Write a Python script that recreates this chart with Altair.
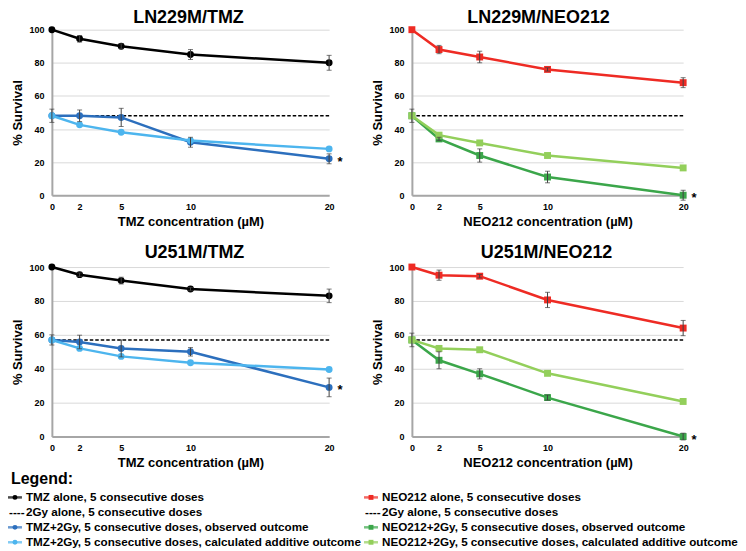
import altair as alt
import pandas as pd

FONT = "Liberation Sans"
conc = [0, 2, 5, 10, 20]

# ---- LN229M / TMZ ----
ln_tmz_alone = [100, 94.5, 90, 85, 80]
ln_tmz_alone_err = [0, 2, 1.5, 3, 4.5]
ln_tmz_obs = [48, 48, 47, 32, 22]
ln_tmz_obs_err = [4, 3.5, 5.5, 3, 3]
ln_tmz_calc = [48, 42.5, 38, 33, 28]
ln_gy = 48

# ---- LN229M / NEO212 ----
ln_neo_alone = [100, 88, 83.5, 76, 68]
ln_neo_alone_err = [0, 2.5, 3.5, 1, 3]
ln_neo_obs = [48, 34, 24, 11, 0]
ln_neo_obs_err = [4, 1, 4, 3.5, 3]
ln_neo_calc = [48, 36.3, 31.6, 24, 16.5]

# ---- U251M / TMZ ----
u_tmz_alone = [100, 95.5, 92, 87, 83]
u_tmz_alone_err = [0, 1, 2, 1, 4]
u_tmz_obs = [57, 55.8, 52, 50, 29]
u_tmz_obs_err = [3, 4, 5, 2.5, 5.5]
u_tmz_calc = [57, 52, 47.3, 43.5, 39.6]
u_gy = 57

# ---- U251M / NEO212 ----
u_neo_alone = [100, 95.2, 94.6, 80.6, 64]
u_neo_alone_err = [0, 3, 1, 4.5, 4.5]
u_neo_obs = [57, 45, 37, 23, 0]
u_neo_obs_err = [4, 5, 3, 1.5, 2]
u_neo_calc = [57, 52, 51.2, 37.3, 20.7]

BLACK = "#000000"
DBLUE = "#2c6fbd"
LBLUE = "#4db5ee"
RED = "#ee2b24"
GREEN = "#3ba64a"
LGREEN = "#93cf5b"

legend_header = "Legend:"
legend_left = [
    "TMZ alone, 5 consecutive doses",
    "2Gy alone, 5 consecutive doses",
    "TMZ+2Gy, 5 consecutive doses, observed outcome",
    "TMZ+2Gy, 5 consecutive doses, calculated additive outcome",
]
legend_right = [
    "NEO212 alone, 5 consecutive doses",
    "2Gy alone, 5 consecutive doses",
    "NEO212+2Gy, 5 consecutive doses, observed outcome",
    "NEO212+2Gy, 5 consecutive doses, calculated additive outcome",
]
legend_left_colors = [BLACK, BLACK, DBLUE, LBLUE]
legend_right_colors = [RED, BLACK, GREEN, LGREEN]
legend_kinds = ["line", "dash", "line", "line"]


def make_axes(xtitle):
    xaxis = alt.Axis(values=conc, title=xtitle, grid=False, ticks=False,
                     domainColor="#a6a6a6", domainWidth=2, labelFont=FONT,
                     labelFontSize=9, labelFontWeight="bold", labelColor="black",
                     labelPadding=7, labelFlush=False, titleFont=FONT,
                     titleFontSize=13, titleFontWeight="bold", titleColor="black",
                     titlePadding=4)
    yaxis = alt.Axis(values=[0, 20, 40, 60, 80, 100], title="% Survival",
                     grid=True, gridColor="#d9d9d9", gridWidth=1, ticks=False,
                     domainColor="#a6a6a6", domainWidth=2, labelFont=FONT,
                     labelFontSize=9, labelFontWeight="bold", labelColor="black",
                     labelPadding=8, titleFont=FONT, titleFontSize=13,
                     titleFontWeight="bold", titleColor="black", titlePadding=4)
    return xaxis, yaxis


def panel(title, xtitle, alone, alone_err, obs, obs_err, calc, gy,
          c_alone, c_obs, c_calc, shape, width, height, title_dx, title_dy):
    xaxis, yaxis = make_axes(xtitle)
    xs = alt.Scale(domain=[0, 20], nice=False, zero=False)
    ys = alt.Scale(domain=[0, 100], nice=False)

    def X(f):
        return alt.X(f + ":Q", scale=xs, axis=xaxis)

    def Y(f):
        return alt.Y(f + ":Q", scale=ys, axis=yaxis)

    layers = []
    gdf = pd.DataFrame({"value": [gy]})
    layers.append(alt.Chart(gdf).mark_rule(color="black", strokeWidth=1.4,
                                           strokeDash=[3.5, 2]).encode(y=Y("value")))
    err_rows = []
    for vals, errs, col in [(alone, alone_err, c_alone), (obs, obs_err, c_obs), (calc, None, c_calc)]:
        df = pd.DataFrame({"conc": conc, "value": vals})
        layers.append(alt.Chart(df).mark_line(color=col, strokeWidth=2.5).encode(x=X("conc"), y=Y("value")))
        layers.append(alt.Chart(df).mark_point(color=col, filled=True, opacity=1, size=48,
                                               shape=shape).encode(x=X("conc"), y=Y("value")))
        if errs is not None:
            for c, v, e in zip(conc, vals, errs):
                if e > 0:
                    err_rows.append({"conc": c, "lo": v - e, "hi": v + e})
    edf = pd.DataFrame(err_rows)
    layers.append(alt.Chart(edf).mark_rule(color="#404040", strokeWidth=1).encode(
        x=X("conc"), y=Y("lo"), y2="hi:Q"))
    layers.append(alt.Chart(edf).mark_tick(color="#404040", orient="horizontal", size=5,
                                           thickness=1).encode(x=X("conc"), y=Y("lo")))
    layers.append(alt.Chart(edf).mark_tick(color="#404040", orient="horizontal", size=5,
                                           thickness=1).encode(x=X("conc"), y=Y("hi")))
    sdf = pd.DataFrame({"conc": [conc[-1]], "value": [obs[-1]], "txt": ["*"]})
    layers.append(alt.Chart(sdf).mark_text(dx=11, dy=3, fontSize=13, fontWeight="bold",
                                           font=FONT, color="black").encode(
        x=X("conc"), y=Y("value"), text="txt:N"))
    return alt.layer(*layers).properties(
        width=width, height=height,
        title=alt.TitleParams(title, font=FONT, fontSize=18, fontWeight="bold",
                              color="black", offset=0, dy=title_dy,
                              frame="group", anchor="middle", dx=title_dx))


p1 = panel("LN229M/TMZ", "TMZ concentration (µM)", ln_tmz_alone, ln_tmz_alone_err,
           ln_tmz_obs, ln_tmz_obs_err, ln_tmz_calc, ln_gy, BLACK, DBLUE, LBLUE,
           "circle", 278, 166, -2, 2)
p2 = panel("LN229M/NEO212", "NEO212 concentration (µM)", ln_neo_alone, ln_neo_alone_err,
           ln_neo_obs, ln_neo_obs_err, ln_neo_calc, ln_gy, RED, GREEN, LGREEN,
           "square", 272, 166, -9, 2)
p3 = panel("U251M/TMZ", "TMZ concentration (µM)", u_tmz_alone, u_tmz_alone_err,
           u_tmz_obs, u_tmz_obs_err, u_tmz_calc, u_gy, BLACK, DBLUE, LBLUE,
           "circle", 278, 170, 4, 0)
p4 = panel("U251M/NEO212", "NEO212 concentration (µM)", u_neo_alone, u_neo_alone_err,
           u_neo_obs, u_neo_obs_err, u_neo_calc, u_gy, RED, GREEN, LGREEN,
           "square", 272, 170, -1, 0)

# ---- legend ----
rows = []
for col, labels, colors, shp in [(0, legend_left, legend_left_colors, "circle"),
                                 (1, legend_right, legend_right_colors, "square")]:
    for r, (lab, c, k) in enumerate(zip(labels, colors, legend_kinds)):
        rows.append({"col": col, "row": r, "label": lab, "color": c, "kind": k, "shape": shp})
ldf = pd.DataFrame(rows)
hdf = pd.DataFrame({"col": [0], "row": [-1], "label": [legend_header]})
LX = alt.X("col:Q", scale=alt.Scale(domain=[0, 1], range=[-44, 313]), axis=None)
LY = alt.Y("row:Q", scale=alt.Scale(domain=[-1, 3], range=[-26, 34]), axis=None)
base = alt.Chart(ldf).encode(x=LX, y=LY)
leg = alt.layer(
    base.transform_filter(alt.datum.kind == "line").mark_tick(
        orient="horizontal", size=14, thickness=2.5, xOffset=7).encode(
        color=alt.Color("color:N", scale=None)),
    base.transform_filter(alt.datum.kind == "line").mark_point(
        filled=True, opacity=1, size=24, xOffset=7).encode(
        color=alt.Color("color:N", scale=None), shape=alt.Shape("shape:N", scale=None)),
    base.transform_filter(alt.datum.kind == "dash").mark_text(
        text="----", align="left", baseline="middle", fontSize=11.7, font=FONT,
        fontWeight="bold", dx=1, color="black"),
    base.mark_text(align="left", baseline="middle", dx=18, fontSize=11.7, font=FONT,
                   fontWeight="bold", color="black").encode(text="label:N"),
    alt.Chart(hdf).mark_text(align="left", baseline="middle", dx=3, dy=-3.3,
                             fontSize=16, font=FONT, fontWeight="bold",
                             color="black").encode(x=LX, y=LY, text="label:N"),
).properties(width=278, height=38)

chart = alt.concat(p1, p2, p3, p4, leg, columns=2, align="each",
                   spacing={"row": 72, "column": 83}, bounds="flush").properties(
    padding=0, background="white"
).configure_view(stroke=None)

chart.save("out.html", embed_options={"renderer": "svg", "actions": False})
